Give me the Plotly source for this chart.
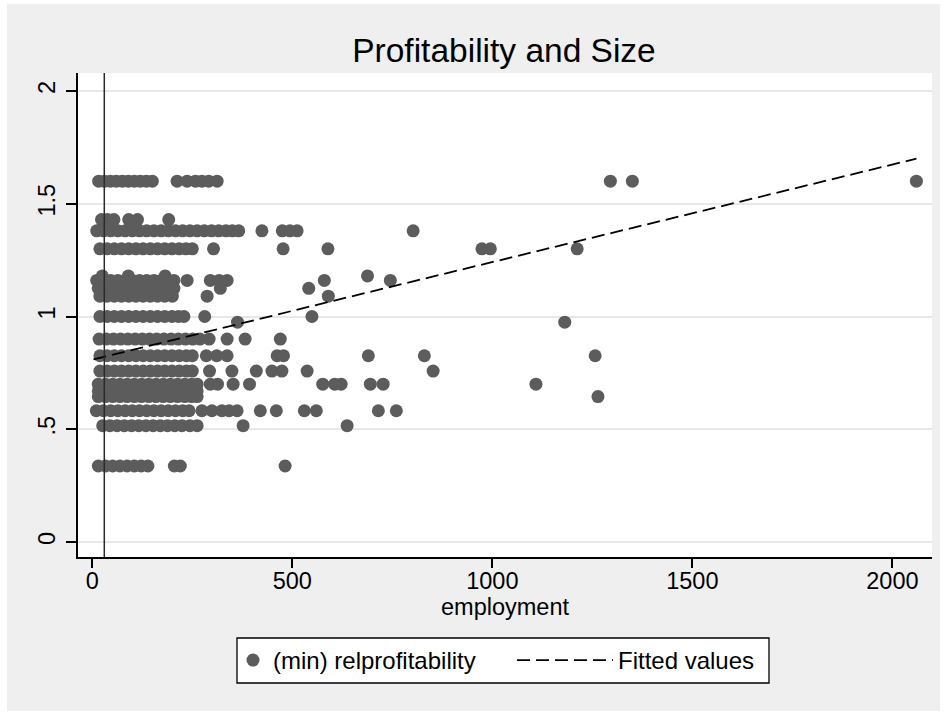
import plotly.graph_objects as go

# ---------------- data ----------------
levels = [1.60, 1.43, 1.38, 1.30, 1.18, 1.16, 1.125, 1.09, 1.00, 0.975,
          0.90, 0.826, 0.758, 0.70, 0.67, 0.645, 0.582, 0.516, 0.337]

emp_160 = [16, 30, 45, 60, 75, 90, 105, 120, 135, 150, 212, 237, 258, 274, 291, 312, 1295, 1350, 2060]
emp_143 = [23, 38, 54, 91, 113, 191]
emp_138 = [11, 28, 46, 64, 82, 100, 118, 136, 154, 172, 190, 208, 226, 244, 262, 280, 298, 316, 334,
           350, 366, 424, 475, 494, 512, 802]
emp_130 = [19, 37, 55, 73, 91, 109, 127, 145, 163, 181, 199, 217, 234, 250, 303, 477, 589, 974, 995, 1212]
emp_118 = [25, 90, 182, 688]
emp_116 = [11, 28, 46, 64, 82, 100, 118, 136, 154, 172, 190, 204, 237, 295, 317, 337, 580, 745]
emp_1125 = [15, 33, 51, 69, 87, 105, 123, 141, 159, 177, 193, 204, 320, 541]
emp_109 = [19, 37, 55, 73, 91, 109, 127, 145, 163, 181, 200, 287, 590]
emp_100 = [19, 37, 55, 73, 91, 109, 127, 145, 163, 181, 199, 215, 229, 281, 549]
emp_0975 = [363, 1181]
emp_090 = [17, 35, 53, 71, 89, 107, 125, 143, 161, 179, 197, 215, 233, 251, 269, 292, 337, 382, 470]
emp_0826 = [19, 37, 55, 73, 91, 109, 127, 145, 163, 181, 199, 217, 235, 250, 285, 311, 337, 462, 478,
            690, 830, 1257]
emp_0758 = [19, 37, 55, 73, 91, 109, 127, 145, 163, 181, 199, 217, 235, 250, 293, 349, 410, 449, 474,
            537, 852]
emp_070 = [15, 33, 51, 69, 87, 105, 123, 141, 159, 177, 195, 213, 231, 248, 262, 295, 313, 352, 393,
           576, 606, 622, 695, 727, 1109]
emp_067 = [15, 33, 51, 69, 87, 105, 123, 141, 159, 177, 195, 213, 231, 248, 262]
emp_0645 = [15, 33, 51, 69, 87, 105, 123, 141, 159, 177, 195, 213, 231, 248, 262, 1264]
emp_0582 = [10, 28, 46, 64, 82, 100, 118, 136, 154, 172, 190, 208, 226, 242, 274, 299, 324, 342, 362,
            420, 460, 530, 560, 715, 760]
emp_0516 = [26, 44, 62, 80, 98, 116, 134, 152, 170, 188, 206, 224, 244, 262, 377, 637]
emp_0337 = [15, 33, 51, 69, 87, 105, 122, 139, 205, 220, 482]

emp_by_level = [emp_160, emp_143, emp_138, emp_130, emp_118, emp_116, emp_1125, emp_109, emp_100,
                emp_0975, emp_090, emp_0826, emp_0758, emp_070, emp_067, emp_0645, emp_0582, emp_0516,
                emp_0337]

fit_x = [3, 2060]
fit_y = [0.81, 1.70]

xline_value = 30

x_ticks = [0, 500, 1000, 1500, 2000]
x_ticktext = ["0", "500", "1000", "1500", "2000"]
y_ticks = [0, 0.5, 1, 1.5, 2]
y_ticktext = ["0", ".5", "1", "1.5", "2"]

# ---------------- build points ----------------
xs, ys = [], []
for lev, emps in zip(levels, emp_by_level):
    for e in emps:
        xs.append(e)
        ys.append(lev)

# ---------------- geometry ----------------
W, H = 947, 715
L, R, T, B = 78, 15, 73, 158
PW, PH = W - L - R, H - T - B


def fx(px):
    return (px - L) / PW


def fy(py):
    return (H - B - py) / PH


FONT = "Liberation Sans, Arial, Helvetica, sans-serif"
MARK = "#5c5c5c"
BG = "#efefef"

fig = go.Figure()
fig.add_trace(go.Scatter(
    x=xs, y=ys, mode="markers", name="(min) relprofitability",
    marker=dict(color=MARK, size=13, line=dict(width=0)),
    legend="legend",
))
fig.add_trace(go.Scatter(
    x=fit_x, y=fit_y, mode="lines", name="Fitted values",
    line=dict(color="black", width=1.8, dash="13px,6px"),
    legend="legend2",
))

shapes = []
# white outer border strips around the grey graph region
for (a, b, c, d) in [(0, 0, 7, H), (940, 0, W, H), (0, 0, W, 4), (0, 711, W, H)]:
    shapes.append(dict(type="rect", xref="paper", yref="paper",
                       x0=fx(a), x1=fx(c), y0=fy(d), y1=fy(b),
                       fillcolor="white", line=dict(width=0), layer="below"))
# legend box
shapes.append(dict(type="rect", xref="paper", yref="paper",
                   x0=fx(237), x1=fx(769), y0=fy(683), y1=fy(638),
                   fillcolor="white", line=dict(color="black", width=1.3), layer="below"))
# vertical reference line
shapes.append(dict(type="line", xref="x", yref="paper", x0=xline_value, x1=xline_value,
                   y0=0, y1=1, line=dict(color="#2a2a2a", width=1.5), layer="above"))

fig.update_layout(
    width=W, height=H,
    margin=dict(l=L, r=R, t=T, b=B, autoexpand=False),
    paper_bgcolor=BG, plot_bgcolor="white",
    font=dict(family=FONT, size=23, color="black"),
    title=dict(text="Profitability and Size", x=504 / W, xanchor="center", xref="container",
               y=1 - 50 / H, yanchor="middle", yref="container",
               font=dict(size=33.5, color="black")),
    shapes=shapes,
    legend=dict(orientation="h", xref="container", yref="container",
                x=233 / W, xanchor="left", y=1 - 660.5 / H, yanchor="middle",
                bgcolor="rgba(0,0,0,0)", borderwidth=0, font=dict(size=24),
                itemwidth=30),
    legend2=dict(orientation="h", xref="container", yref="container",
                 x=512 / W, xanchor="left", y=1 - 660.5 / H, yanchor="middle",
                 bgcolor="rgba(0,0,0,0)", borderwidth=0, font=dict(size=24),
                 itemwidth=96),
    showlegend=True,
)

fig.update_xaxes(
    range=[-35.75, 2099], tickvals=x_ticks, ticktext=x_ticktext, automargin=False,
    showgrid=False, zeroline=False, showline=True, linecolor="black", linewidth=1.5,
    ticks="outside", ticklen=9, tickwidth=1.5, tickcolor="black",
    ticklabelstandoff=-7,
    title=dict(text="employment", standoff=4, font=dict(size=23.5)),
    tickfont=dict(size=23.5),
)
fig.update_yaxes(
    range=[-0.0665, 2.0798], tickvals=y_ticks, ticktext=y_ticktext, tickangle=-90,
    automargin=False,
    showgrid=True, gridcolor="#e8e8e8", gridwidth=1.5, zeroline=False,
    showline=True, linecolor="black", linewidth=1.5,
    ticks="outside", ticklen=10, tickwidth=1.5, tickcolor="black",
    ticklabelstandoff=2, tickfont=dict(size=23.5),
)

fig.write_html(
    "out.html",
    config={"displayModeBar": False},
    post_script="document.body.style.margin='0';document.body.style.padding='0';",
)
